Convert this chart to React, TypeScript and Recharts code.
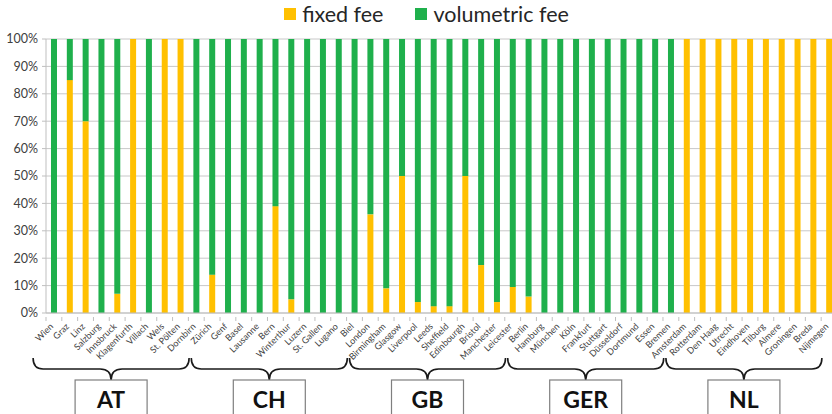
import { BarChart, Bar, XAxis, YAxis, CartesianGrid, Legend } from "recharts";

const cities = [
  "Wien", "Graz", "Linz", "Salzburg", "Innsbruck", "Klagenfurth", "Villach", "Wels", "St. Pölten", "Dornbirn",
  "Zürich", "Genf", "Basel", "Lausanne", "Bern", "Winterthur", "Luzern", "St. Gallen", "Lugano", "Biel",
  "London", "Birmingham", "Glasgow", "Liverpool", "Leeds", "Sheffield", "Edinbourgh", "Bristol", "Manchester", "Leicester",
  "Berlin", "Hamburg", "München", "Köln", "Frankfurt", "Stuttgart", "Düsseldorf", "Dortmund", "Essen", "Bremen",
  "Amsterdam", "Rotterdam", "Den Haag", "Utrecht", "Eindhoven", "Tilburg", "Almere", "Groningen", "Breda", "Nijmegen",
];

const countries = ["AT", "CH", "GB", "GER", "NL"];

// share of fixed fee (%)
const fixedFee = [
  0, 85, 70, 0, 7, 100, 0, 100, 100, 0,
  14, 0, 0, 0, 39, 5, 0, 0, 0, 0,
  36, 9, 50, 4, 2.5, 2.5, 50, 17.5, 4, 9.5,
  6, 0, 0, 0, 0, 0, 0, 0, 0, 0,
  100, 100, 100, 100, 100, 100, 100, 100, 100, 100,
];

// share of volumetric fee (%)
const volumetricFee = [
  100, 15, 30, 100, 93, 0, 100, 0, 0, 100,
  86, 100, 100, 100, 61, 95, 100, 100, 100, 100,
  64, 91, 50, 96, 97.5, 97.5, 50, 82.5, 96, 90.5,
  94, 100, 100, 100, 100, 100, 100, 100, 100, 100,
  0, 0, 0, 0, 0, 0, 0, 0, 0, 0,
];

const yTicks = [0, 10, 20, 30, 40, 50, 60, 70, 80, 90, 100];

const data = cities.map((city, i) => ({
  city,
  fixed: fixedFee[i],
  volumetric: volumetricFee[i],
}));

const YELLOW = "#FFC000";
const GREEN = "#1FB04C";
const FONT = "Lato, 'Open Sans', sans-serif";

const CHART_W = 838;
const CHART_H = 414;
const Y_AXIS_W = 46;
const MARGIN = { top: 13, right: 1, bottom: 0, left: 0 };
const PLOT_W = CHART_W - Y_AXIS_W - MARGIN.left - MARGIN.right;
const PER_GROUP = 10;

function CityTick(props: any) {
  const { x, y, payload, index } = props;
  const bw = props.width ? props.width / cities.length : PLOT_W / cities.length;
  const axisY = y - 2;
  const i = payload?.index ?? index;

  let group = null;
  if (i % PER_GROUP === PER_GROUP / 2) {
    // brace + country box, once per group
    const c = x - bw / 2 - 14;
    const h = 78;
    const y0 = axisY + 41;
    const y1 = y0 + 11;
    const y2 = y0 + 22;
    const d = `M ${c - h} ${y0} Q ${c - h} ${y1} ${c - h + 10} ${y1} L ${c - 11} ${y1} Q ${c} ${y1} ${c} ${y2} Q ${c} ${y1} ${c + 11} ${y1} L ${c + h - 10} ${y1} Q ${c + h} ${y1} ${c + h} ${y0}`;
    group = (
      <g>
        <path d={d} fill="none" stroke="#1a1a1a" strokeWidth={1.6} />
        <rect x={c - 36} y={y2} width={72} height={44} fill="#fff" stroke="#7f7f7f" strokeWidth={1.2} />
        <text x={c} y={y2 + 28} textAnchor="middle" fontFamily={FONT} fontWeight={700} fontSize={23} fill="#111">
          {countries[Math.floor(i / PER_GROUP)]}
        </text>
      </g>
    );
  }

  return (
    <g>
      <line x1={x + bw / 2} y1={axisY} x2={x + bw / 2} y2={axisY + 4} stroke="#bfbfbf" />
      {i === 0 && <line x1={x - bw / 2} y1={axisY} x2={x - bw / 2} y2={axisY + 4} stroke="#bfbfbf" />}
      <text
        x={x}
        y={axisY + 10}
        transform={`rotate(-45, ${x}, ${axisY + 10})`}
        textAnchor="end"
        fontFamily={FONT}
        fontSize={9}
        fill="#404040"
      >
        {payload.value}
      </text>
      {group}
    </g>
  );
}

function LegendContent() {
  const items = [
    { label: "fixed fee", color: YELLOW },
    { label: "volumetric fee", color: GREEN },
  ];
  return (
    <div style={{ display: "flex", justifyContent: "center", gap: 32, fontFamily: FONT, fontSize: 21.5, color: "#262626", lineHeight: "26px", paddingLeft: 16 }}>
      {items.map((it) => (
        <div key={it.label} style={{ display: "flex", alignItems: "center" }}>
          <span style={{ display: "inline-block", width: 12, height: 12, background: it.color, marginRight: 6 }} />
          {it.label}
        </div>
      ))}
    </div>
  );
}

export default function App() {
  return (
    <div style={{ position: "absolute", left: 0, top: 0, width: 832, height: 414, overflow: "hidden", background: "#fff" }}>
      <BarChart width={CHART_W} height={CHART_H} data={data} margin={MARGIN} barSize={6}>
        <CartesianGrid vertical={false} stroke="#c8c8c8" />
        <Legend verticalAlign="top" height={26} content={<LegendContent />} wrapperStyle={{ top: 1 }} />
        <XAxis
          dataKey="city"
          interval={0}
          height={101}
          axisLine={{ stroke: "#bfbfbf" }}
          tickLine={false}
          tickMargin={0}
          tick={<CityTick />}
        />
        <YAxis
          width={Y_AXIS_W}
          domain={[0, 100]}
          ticks={yTicks}
          tickFormatter={(v) => `${v}%`}
          axisLine={{ stroke: "#bfbfbf" }}
          tickLine={{ stroke: "#bfbfbf" }}
          tickSize={4}
          tickMargin={4}
          tick={{ fontSize: 12.5, fill: "#404040", fontFamily: FONT }}
        />
        <Bar dataKey="fixed" stackId="a" fill={YELLOW} isAnimationActive={false} />
        <Bar dataKey="volumetric" stackId="a" fill={GREEN} isAnimationActive={false} />
      </BarChart>
    </div>
  );
}
